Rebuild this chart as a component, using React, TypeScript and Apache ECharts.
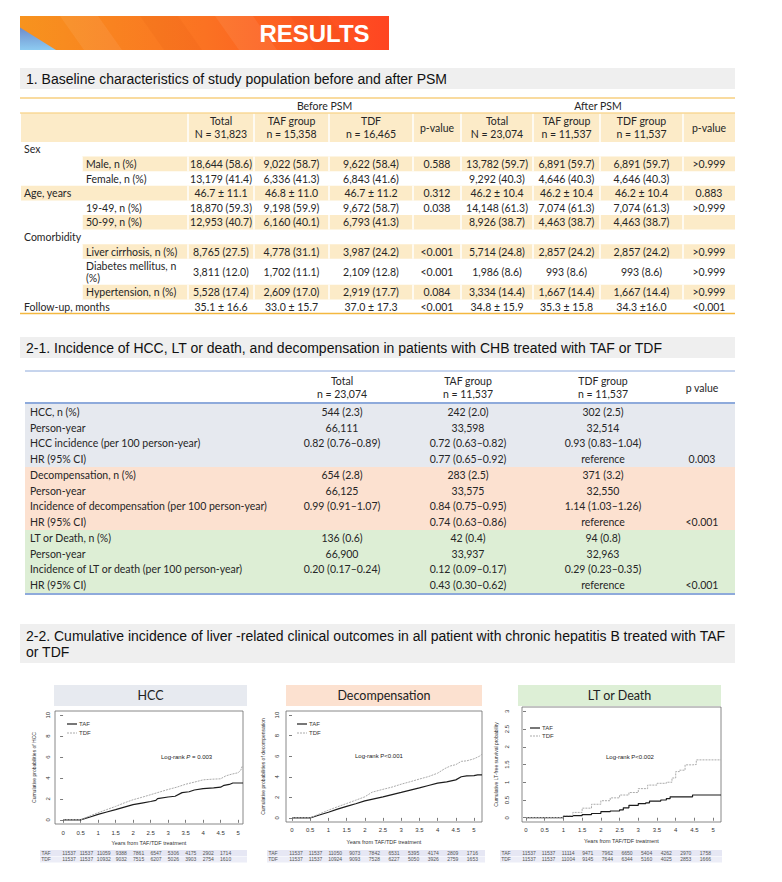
import React, { useEffect, useRef } from "react";
import * as echarts from "echarts";

const FT = "'Liberation Sans', Arial, Helvetica, sans-serif";
const FC = "Lato, 'Open Sans', sans-serif";
const INK = "#262626";

// ---------- texts ----------
const pageTitle = "RESULTS";
const section1Title = "1. Baseline characteristics of study population before and after PSM";
const section21Title = "2-1. Incidence of HCC, LT or death, and decompensation in patients with CHB treated with TAF or TDF";
const section22Title = "2-2. Cumulative incidence of liver -related clinical outcomes in all patient with chronic hepatitis B treated with TAF\nor TDF";

// ---------- table 1 ----------
const t1Groups = ["Before PSM", "After PSM"];
const t1ColHeads = [
  "Total\nN = 31,823", "TAF group\nn = 15,358", "TDF\nn = 16,465", "p-value",
  "Total\nN = 23,074", "TAF group\nn = 11,537", "TDF group\nn = 11,537", "p-value",
];
const t1Labels = [
  "Sex", "Male, n (%)", "Female, n (%)", "Age, years", "19-49, n (%)", "50-99, n (%)",
  "Comorbidity", "Liver cirrhosis, n (%)", "Diabetes mellitus, n\n(%)", "Hypertension, n (%)", "Follow-up, months",
];
const t1Indent = [false, true, true, false, true, true, false, true, true, true, false];
const t1Band = [false, true, false, true, false, true, false, true, false, true, false];
const t1Values = [
  [],
  ["18,644 (58.6)", "9,022 (58.7)", "9,622 (58.4)", "0.588", "13,782 (59.7)", "6,891 (59.7)", "6,891 (59.7)", ">0.999"],
  ["13,179 (41.4)", "6,336 (41.3)", "6,843 (41.6)", "", "9,292 (40.3)", "4,646 (40.3)", "4,646 (40.3)", ""],
  ["46.7 ± 11.1", "46.8 ± 11.0", "46.7 ± 11.2", "0.312", "46.2 ± 10.4", "46.2 ± 10.4", "46.2 ± 10.4", "0.883"],
  ["18,870 (59.3)", "9,198 (59.9)", "9,672 (58.7)", "0.038", "14,148 (61.3)", "7,074 (61.3)", "7,074 (61.3)", ">0.999"],
  ["12,953 (40.7)", "6,160 (40.1)", "6,793 (41.3)", "", "8,926 (38.7)", "4,463 (38.7)", "4,463 (38.7)", ""],
  [],
  ["8,765 (27.5)", "4,778 (31.1)", "3,987 (24.2)", "<0.001", "5,714 (24.8)", "2,857 (24.2)", "2,857 (24.2)", ">0.999"],
  ["3,811 (12.0)", "1,702 (11.1)", "2,109 (12.8)", "<0.001", "1,986 (8.6)", "993 (8.6)", "993 (8.6)", ">0.999"],
  ["5,528 (17.4)", "2,609 (17.0)", "2,919 (17.7)", "0.084", "3,334 (14.4)", "1,667 (14.4)", "1,667 (14.4)", ">0.999"],
  ["35.1 ± 16.6", "33.0 ± 15.7", "37.0 ± 17.3", "<0.001", "34.8 ± 15.9", "35.3 ± 15.8", "34.3 ±16.0", "<0.001"],
];

// ---------- table 2 ----------
const t2ColHeads = ["Total\nn = 23,074", "TAF group\nn = 11,537", "TDF group\nn = 11,537", "p value"];
const t2Labels = [
  "HCC, n (%)", "Person-year", "HCC incidence (per 100 person-year)", "HR (95% CI)",
  "Decompensation, n (%)", "Person-year", "Incidence of decompensation (per 100 person-year)", "HR (95% CI)",
  "LT or Death, n (%)", "Person-year", "Incidence of LT or death (per 100 person-year)", "HR (95% CI)",
];
const t2Values = [
  ["544 (2.3)", "242 (2.0)", "302 (2.5)", ""],
  ["66,111", "33,598", "32,514", ""],
  ["0.82 (0.76–0.89)", "0.72 (0.63–0.82)", "0.93 (0.83–1.04)", ""],
  ["", "0.77 (0.65–0.92)", "reference", "0.003"],
  ["654 (2.8)", "283 (2.5)", "371 (3.2)", ""],
  ["66,125", "33,575", "32,550", ""],
  ["0.99 (0.91–1.07)", "0.84 (0.75–0.95)", "1.14 (1.03–1.26)", ""],
  ["", "0.74 (0.63–0.86)", "reference", "<0.001"],
  ["136 (0.6)", "42 (0.4)", "94 (0.8)", ""],
  ["66,900", "33,937", "32,963", ""],
  ["0.20 (0.17–0.24)", "0.12 (0.09–0.17)", "0.29 (0.23–0.35)", ""],
  ["", "0.43 (0.30–0.62)", "reference", "<0.001"],
];

// ---------- KM charts ----------
const chartTitles = ["HCC", "Decompensation", "LT or Death"];
const seriesNames = ["TAF", "TDF"];
const xTicks = [0, 0.5, 1, 1.5, 2, 2.5, 3, 3.5, 4, 4.5, 5];
const yTicksPct = [0, 2, 4, 6, 8, 10];
const yTicksLT = [0, 0.5, 1, 1.5, 2, 2.5, 3];
const xAxisTitle = "Years from TAF/TDF treatment";
const yAxisTitles = [
  "Cumulative probabilities of HCC",
  "Cumulative probabilities of decompensation",
  "Cumulative LT-free survival probability",
];
const logRankTexts = ["Log-rank {i|P} = 0.003", "Log-rank P<0.001", "Log-rank P<0.002"];

const hccTAF = [[0, 0], [0.5, 0], [0.75, 0.25], [1, 0.52], [1.25, 0.75], [1.5, 0.98], [1.75, 1.22], [2, 1.45], [2.25, 1.6], [2.5, 1.75], [2.65, 1.85], [2.7, 2.03], [3, 2.18], [3.2, 2.25], [3.4, 2.6], [3.6, 2.68], [3.75, 2.85], [4, 2.98], [4.3, 3.05], [4.5, 3.12], [4.6, 3.3], [4.75, 3.38], [4.85, 3.52], [5.14, 3.52]];
const hccTDF = [[0, 0], [0.5, 0], [0.75, 0.35], [1, 0.68], [1.25, 0.98], [1.5, 1.28], [1.75, 1.62], [2, 1.92], [2.25, 2.15], [2.5, 2.4], [2.75, 2.65], [3, 2.9], [3.25, 3.12], [3.5, 3.4], [3.75, 3.6], [4, 3.82], [4.25, 3.88], [4.5, 3.92], [4.65, 4.2], [4.8, 4.35], [5, 4.5], [5.08, 4.75], [5.1, 5.05], [5.14, 5.05]];
const decTAF = [[0, 0], [0.5, 0], [0.75, 0.28], [1, 0.55], [1.25, 0.85], [1.5, 1.12], [1.75, 1.38], [2, 1.65], [2.25, 1.85], [2.5, 2.05], [2.75, 2.27], [3, 2.48], [3.25, 2.7], [3.5, 2.92], [3.75, 3.15], [4, 3.38], [4.25, 3.5], [4.5, 3.7], [4.65, 4.0], [4.8, 4.08], [5.0, 4.12], [5.1, 4.18], [5.22, 4.18]];
const decTDF = [[0, 0], [0.5, 0], [0.75, 0.38], [1, 0.75], [1.25, 1.08], [1.5, 1.4], [1.75, 1.72], [2, 2.05], [2.2, 2.5], [2.5, 2.78], [2.75, 3.0], [3, 3.28], [3.25, 3.52], [3.5, 3.78], [3.75, 4.02], [4, 4.35], [4.2, 4.8], [4.35, 5.05], [4.5, 5.18], [4.65, 5.5], [4.8, 5.55], [5, 5.75], [5.15, 6.0], [5.22, 6.2]];
const ltTAF = [[0, 0], [0.8, 0], [1, 0.04], [1.25, 0.06], [1.5, 0.09], [1.75, 0.12], [2, 0.17], [2.25, 0.19], [2.5, 0.22], [2.6, 0.28], [2.75, 0.35], [3, 0.4], [3.2, 0.42], [3.3, 0.47], [3.6, 0.5], [3.75, 0.54], [3.85, 0.59], [4.4, 0.59], [4.45, 0.64], [5.21, 0.64]];
const ltTDF = [[0, 0], [0.8, 0], [1, 0.06], [1.25, 0.15], [1.5, 0.27], [1.75, 0.38], [2, 0.48], [2.25, 0.56], [2.5, 0.64], [2.75, 0.71], [3, 0.82], [3.25, 0.92], [3.5, 0.97], [3.75, 1.0], [3.9, 1.12], [4.0, 1.3], [4.1, 1.34], [4.25, 1.49], [4.45, 1.5], [4.55, 1.63], [5.21, 1.63]];

const riskLabels = ["TAF", "TDF"];
const hccRiskTAF = [11537, 11537, 11059, 9388, 7861, 6547, 5306, 4175, 2902, 1714];
const hccRiskTDF = [11537, 11537, 10932, 9032, 7515, 6207, 5026, 3903, 2754, 1610];
const decRiskTAF = [11537, 11537, 11050, 9073, 7842, 6531, 5395, 4174, 2809, 1716];
const decRiskTDF = [11537, 11537, 10924, 9093, 7528, 6227, 5050, 3926, 2759, 1653];
const ltRiskTAF = [11537, 11537, 11114, 9471, 7962, 6650, 5404, 4262, 2970, 1758];
const ltRiskTDF = [11537, 11537, 11004, 9145, 7644, 6344, 5160, 4025, 2853, 1666];

// ---------- helpers ----------
function T(x: number, y: number, text: string, o: any = {}) {
  const align = o.align ?? "left";
  const va = o.va ?? "middle";
  const style: any = {
    text,
    fill: o.fill ?? INK,
    fontSize: o.size ?? 10.5,
    fontFamily: o.font ?? FC,
    fontWeight: o.weight ?? "normal",
    fontStyle: o.fontStyle ?? "normal",
    align, verticalAlign: va, textAlign: align, textVerticalAlign: va,
  };
  if (o.lh) style.lineHeight = o.lh;
  if (o.rich) style.rich = o.rich;
  return { type: "text", x, y, silent: true, z: 20, style };
}
function R(x: number, y: number, w: number, h: number, fill: any, z = 5) {
  return { type: "rect", silent: true, z, shape: { x, y, width: w, height: h }, style: { fill } };
}
function L(x1: number, y1: number, x2: number, y2: number, stroke: string, lw = 1, z = 8, dash?: number[]) {
  const style: any = { stroke, lineWidth: lw };
  if (dash) style.lineDash = dash;
  return { type: "line", silent: true, z, shape: { x1, y1, x2, y2 }, style };
}

const TAF_COLOR = "#1c1c1c";
const TDF_COLOR = "#ababab";
const TDF_DASH = [2, 1];

function buildGraphic() {
  const g: any[] = [];
  // banner
  g.push(R(20, 16, 369, 34, new echarts.graphic.LinearGradient(0, 0, 1, 0, [
    { offset: 0, color: "#F7931E" }, { offset: 0.5, color: "#FB7222" }, { offset: 1, color: "#FF4521" },
  ]), 2));
  [60, 140, 215, 290].forEach((sx, i) => {
    g.push({
      type: "polygon", silent: true, z: 3,
      shape: { points: [[sx, 16], [sx + 38, 16], [sx + 62, 50], [sx + 24, 50]] },
      style: { fill: i % 2 ? "rgba(200,60,0,0.07)" : "rgba(255,255,255,0.07)" },
    });
  });
  g.push({
    type: "polygon", silent: true, z: 4,
    shape: { points: [[20, 27.5], [56, 50], [20, 50]] },
    style: { fill: new echarts.graphic.LinearGradient(0, 0, 0, 1, [{ offset: 0, color: "#6F8CCB" }, { offset: 1, color: "#8DCBF1" }]) },
  });
  g.push(T(314.5, 33.5, pageTitle, { size: 24, weight: "bold", fill: "#ffffff", font: FT, align: "center" }));

  // section bands
  g.push(R(20, 68, 715, 21, "#EFEFEF", 2));
  g.push(T(26, 78.5, section1Title, { size: 14, font: FT, fill: "#111" }));
  g.push(R(20, 337, 715, 21, "#EFEFEF", 2));
  g.push(T(26, 347.5, section21Title, { size: 14, font: FT, fill: "#111" }));
  g.push(R(20, 624, 715, 39, "#EFEFEF", 2));
  g.push(T(26, 643.5, section22Title, { size: 14, font: FT, fill: "#111", lh: 16 }));

  // ---- table 1
  const orange = "#F4B840";
  const band1 = "#FCEBC8";
  const colB = [188, 254, 329, 413, 461, 533, 600, 683, 735];
  const colC = colB.slice(0, -1).map((b, j) => (b + colB[j + 1]) / 2);
  g.push(L(20, 98, 735, 98, orange, 1.2));
  g.push(T((colB[0] + colB[4]) / 2, 106, t1Groups[0], { align: "center" }));
  g.push(T((colB[4] + colB[8]) / 2, 106, t1Groups[1], { align: "center" }));
  g.push(L(20, 113, 735, 113, orange, 0.8));
  g.push(R(21, 113.5, 714, 28.5, band1));
  colB.slice(0, -1).forEach((b) => g.push(L(b, 113.5, b, 142, "#ffffff", 1.5, 6)));
  t1ColHeads.forEach((h, j) => g.push(T(colC[j], 127.5, h, { align: "center", lh: 13 })));
  let y = 142;
  t1Labels.forEach((lab, i) => {
    const h = i === 8 ? 26 : 14.6;
    const cy = y + h / 2;
    if (t1Band[i]) {
      const bx = t1Indent[i] ? 82 : 21;
      g.push(R(bx, y, 735 - bx, h, band1));
      colB.slice(0, -1).forEach((b) => g.push(L(b, y, b, y + h, "#ffffff", 1.5, 6)));
      if (t1Indent[i]) g.push(L(82, y, 82, y + h, "#ffffff", 1.5, 6));
    }
    g.push(T(t1Indent[i] ? 86 : 24, cy, lab, { lh: 11.5 }));
    (t1Values[i] || []).forEach((v, j) => { if (v) g.push(T(colC[j], cy, v, { align: "center" })); });
    y += h;
  });
  g.push(L(20, 313.5, 735, 313.5, orange, 1.5));

  // ---- table 2
  const blue = "#8EAADB";
  const c2 = [342, 468, 603, 702];
  g.push(L(25, 371, 735, 371, blue, 1));
  t2ColHeads.forEach((h, j) => g.push(T(c2[j], 387.5, h, { align: "center", lh: 13 })));
  const bandCols = ["#E6E9EF", "#FCE1D0", "#DDEED5"];
  const rh = 15.75;
  bandCols.forEach((c, k) => g.push(R(25, 404 + k * 4 * rh, 710, 4 * rh, c)));
  t2Labels.forEach((lab, i) => {
    const cy = 404 + (i + 0.5) * rh;
    g.push(T(30, cy, lab));
    t2Values[i].forEach((v, j) => { if (v) g.push(T(c2[j], cy, v, { align: "center" })); });
  });
  g.push(L(25, 403, 735, 403, blue, 2));
  g.push(L(25, 594, 735, 594, blue, 2));

  // ---- chart title boxes
  const boxes = [[54, 247, "#E7EAF0"], [286, 482, "#FCE1D0"], [518, 721, "#DDEFD6"]];
  boxes.forEach((b: any, k) => {
    g.push(R(b[0], 685, b[1] - b[0], 21, b[2]));
    g.push(T((b[0] + b[1]) / 2, 695.5, chartTitles[k], { align: "center", size: 12.5, fill: "#222" }));
  });

  // ---- legends (line keys)
  const lg = [[67, 724, 733], [297, 724, 733], [530, 728, 736]];
  lg.forEach((p) => {
    g.push(L(p[0], p[1], p[0] + 10, p[1], TAF_COLOR, 1.2, 21));
    g.push(L(p[0], p[2], p[0] + 10, p[2], TDF_COLOR, 1, 21, TDF_DASH));
    g.push(T(p[0] + 12, p[1], seriesNames[0], { size: 6, font: FT, fill: "#333" }));
    g.push(T(p[0] + 12, p[2], seriesNames[1], { size: 6, font: FT, fill: "#333" }));
  });

  // ---- log-rank texts
  const lr = [[161, 757], [355, 756], [606, 757]];
  lr.forEach((p, k) => g.push(T(p[0], p[1], logRankTexts[k], {
    size: 6, font: FT, fill: "#222",
    rich: { i: { fontStyle: "italic", fontSize: 6, fontFamily: FT, fill: "#222" } },
  })));

  // ---- risk tables
  const risks = [[hccRiskTAF, hccRiskTDF], [decRiskTAF, decRiskTDF], [ltRiskTAF, ltRiskTDF]];
  const rl = [[40, 247, 46, 69, 17.4], [267, 485, 273, 296, 19.6], [500, 722, 506, 529, 19.6]];
  risks.forEach((pair, k) => {
    const [x0, x1, lx, nx, step] = rl[k];
    g.push(R(x0, 850, x1 - x0, 6, "#E6E7F4"));
    g.push(R(x0, 856.5, x1 - x0, 6, "#ECEDF7"));
    pair.forEach((row, r) => {
      const cy = 853 + r * 6.3;
      g.push(T(lx, cy, riskLabels[r], { align: "center", size: 5, font: FT, fill: "#555" }));
      row.forEach((v, j) => g.push(T(nx + j * step, cy, String(v), { align: "center", size: 5, font: FT, fill: "#555" })));
    });
  });
  return g;
}

const gridDefs = [
  { left: 55, top: 711, width: 188, height: 113 },
  { left: 286, top: 711, width: 196, height: 111 },
  { left: 522, top: 707, width: 199, height: 115 },
];
const xRanges = [[-0.23, 5.14], [-0.165, 5.22], [-0.107, 5.21]];
const yRanges = [[-0.4, 10.4], [-0.4, 10.4], [-0.12, 3.12]];
const yOffsets = [0, 3, 9];
const yNameGaps = [19, 18, 15];
const yLabelMargins = [4, 3, 3];
const xLabelMargins = [6, 4.5, 4.5];
const xNameGaps = [16, 17, 16];

export default function App() {
  const ref = useRef<HTMLDivElement>(null);
  useEffect(() => {
    if (!ref.current) return;
    const chart = echarts.init(ref.current, undefined, { renderer: "svg" });
    const curves = [[hccTAF, hccTDF], [decTAF, decTDF], [ltTAF, ltTDF]];
    const yTickSets = [yTicksPct, yTicksPct, yTicksLT];
    const tickLine = { color: "#444", width: 0.7 };
    const option: any = {
      animation: false,
      backgroundColor: "#ffffff",
      grid: gridDefs.map((gd) => ({ ...gd, show: true, borderColor: "#6a6a6a", borderWidth: 0.8, backgroundColor: "transparent", containLabel: false })),
      xAxis: gridDefs.map((_, k) => ({
        type: "value", gridIndex: k, min: xRanges[k][0], max: xRanges[k][1],
        axisLine: { show: false }, splitLine: { show: false },
        axisTick: { show: true, customValues: xTicks, length: 3, lineStyle: tickLine },
        axisLabel: { customValues: xTicks, fontSize: 6, color: "#333", fontFamily: FT, margin: xLabelMargins[k] },
        name: xAxisTitle, nameLocation: "middle", nameGap: xNameGaps[k],
        nameTextStyle: { fontSize: 5.5, color: "#333", fontFamily: FT },
      })),
      yAxis: gridDefs.map((_, k) => ({
        type: "value", gridIndex: k, min: yRanges[k][0], max: yRanges[k][1], offset: yOffsets[k],
        axisLine: { show: false }, splitLine: { show: false },
        axisTick: { show: true, customValues: yTickSets[k], length: 3, lineStyle: tickLine },
        axisLabel: { customValues: yTickSets[k], rotate: 90, fontSize: 6, color: "#333", fontFamily: FT, margin: yLabelMargins[k] },
        name: yAxisTitles[k], nameLocation: "middle", nameGap: yNameGaps[k],
        nameTextStyle: { fontSize: 5, color: "#333", fontFamily: FT },
      })),
      series: curves.flatMap((pair, k) => pair.map((data, s) => ({
        type: "line", name: seriesNames[s], xAxisIndex: k, yAxisIndex: k, data,
        symbol: "none", showSymbol: false, silent: true, clip: true,
        step: k === 2 ? "end" : false,
        lineStyle: s === 0 ? { color: TAF_COLOR, width: 1.2, type: "solid" } : { color: TDF_COLOR, width: 1, type: TDF_DASH },
        itemStyle: { color: s === 0 ? TAF_COLOR : TDF_COLOR },
        z: 3,
      }))),
      graphic: { elements: buildGraphic() },
    };
    chart.setOption(option);
    return () => chart.dispose();
  }, []);
  return <div ref={ref} style={{ position: "absolute", left: 0, top: 0, width: 782, height: 882, background: "#fff" }} />;
}
